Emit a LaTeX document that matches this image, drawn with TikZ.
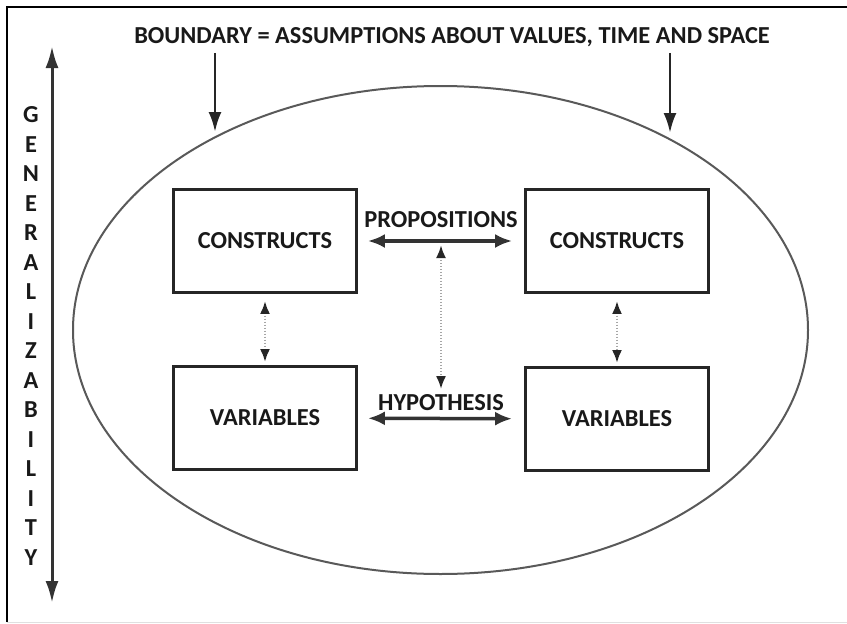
\documentclass[tikz,border=0pt]{standalone}
\usepackage{fontspec}
\setmainfont{Carlito}
\usepackage{tikz}
\usetikzlibrary{%
        arrows.meta, % arrow tips
        shapes.geometric, % ellipse
    }

\begin{document}
\begin{tikzpicture}[x=1pt, y=-1pt, line width=2pt, font=\fontsize{24.4}{28}\selectfont\bfseries]
    \tikzset{%
        box/.style={draw=black!85, line width=2.8pt, minimum width=183pt, minimum height=103pt, text=black!90},
        bigarrow/.style={draw=black!80, line width=3.5pt, arrows={Latex[length=17pt, width=14pt]-Latex[length=17pt, width=14pt]}},
        longarrow/.style={draw=black!80, line width=3pt, arrows={Latex[length=22pt, width=13pt]-Latex[length=22pt, width=13pt]}},
        downarrow/.style={draw=black!85, line width=2.8pt, arrows={-Latex[length=20pt, width=13pt]}},
        dotarrow/.style={draw=black!35, line width=2.5pt, dash pattern=on 1.5pt off 1.5pt,
                arrows={Latex[length=13pt, width=10pt, color=black!85]-Latex[length=13pt, width=10pt, color=black!85]}},
    }

    \useasboundingbox (0,0) rectangle (847,624);

    % frame
    \draw [line width=2.5pt] (7,622) -- (7,7) -- (847,7);
    \draw [black!12, line width=1pt] (7,622) -- (847,622);

    % boundary
    \node (bound) [ellipse, draw=black!65, line width=2pt, minimum width=735pt, minimum height=488pt] at (440.5,330) {};
    \node (title) [text=black!90] at (452,37) {BOUNDARY = ASSUMPTIONS ABOUT VALUES, TIME AND SPACE};
    \coordinate (hitL) at (215,132);
    \coordinate (hitR) at (670,133);
    \draw [downarrow] ([yshift=-2pt] title.south -| hitL) -- (hitL);
    \draw [downarrow] ([yshift=-2pt] title.south -| hitR) -- (hitR);

    % generalizability
    \coordinate (gtop) at (52,46);
    \coordinate (gbot) at (52,603);
    \draw [longarrow] (gtop) -- (gbot);
    \foreach \ch [count=\i from 0] in {G,E,N,E,R,A,L,I,Z,A,B,I,L,I,T,Y} {%
            \node (gen\i) [text=black!90] at (31, 115+29.5*\i) {\ch};
        }

    % boxes
    \node (conL) [box] at (265,241) {CONSTRUCTS};
    \node (conR) [box] at (617,241) {CONSTRUCTS};
    \node (varL) [box] at (265,418) {VARIABLES};
    \node (varR) [box] at (617,419) {VARIABLES};

    % links
    \draw [bigarrow, shorten <=10pt, shorten >=12pt] (conL) -- (conR)
    coordinate [midway] (pmid) node (prop) [midway, above=8pt, text=black!90] {PROPOSITIONS};
    \draw [bigarrow, shorten <=10pt, shorten >=12pt] (varL) -- (varR)
    node (hyp) [midway, above=3pt, text=black!90] {HYPOTHESIS};
    \draw [dotarrow] ([yshift=-4pt] pmid) -- (hyp.north);
    \draw [dotarrow, shorten <=7pt, shorten >=3pt] (conL) -- (varL);
    \draw [dotarrow, shorten <=7pt, shorten >=3pt] (conR) -- (varR);
\end{tikzpicture}
\end{document}
